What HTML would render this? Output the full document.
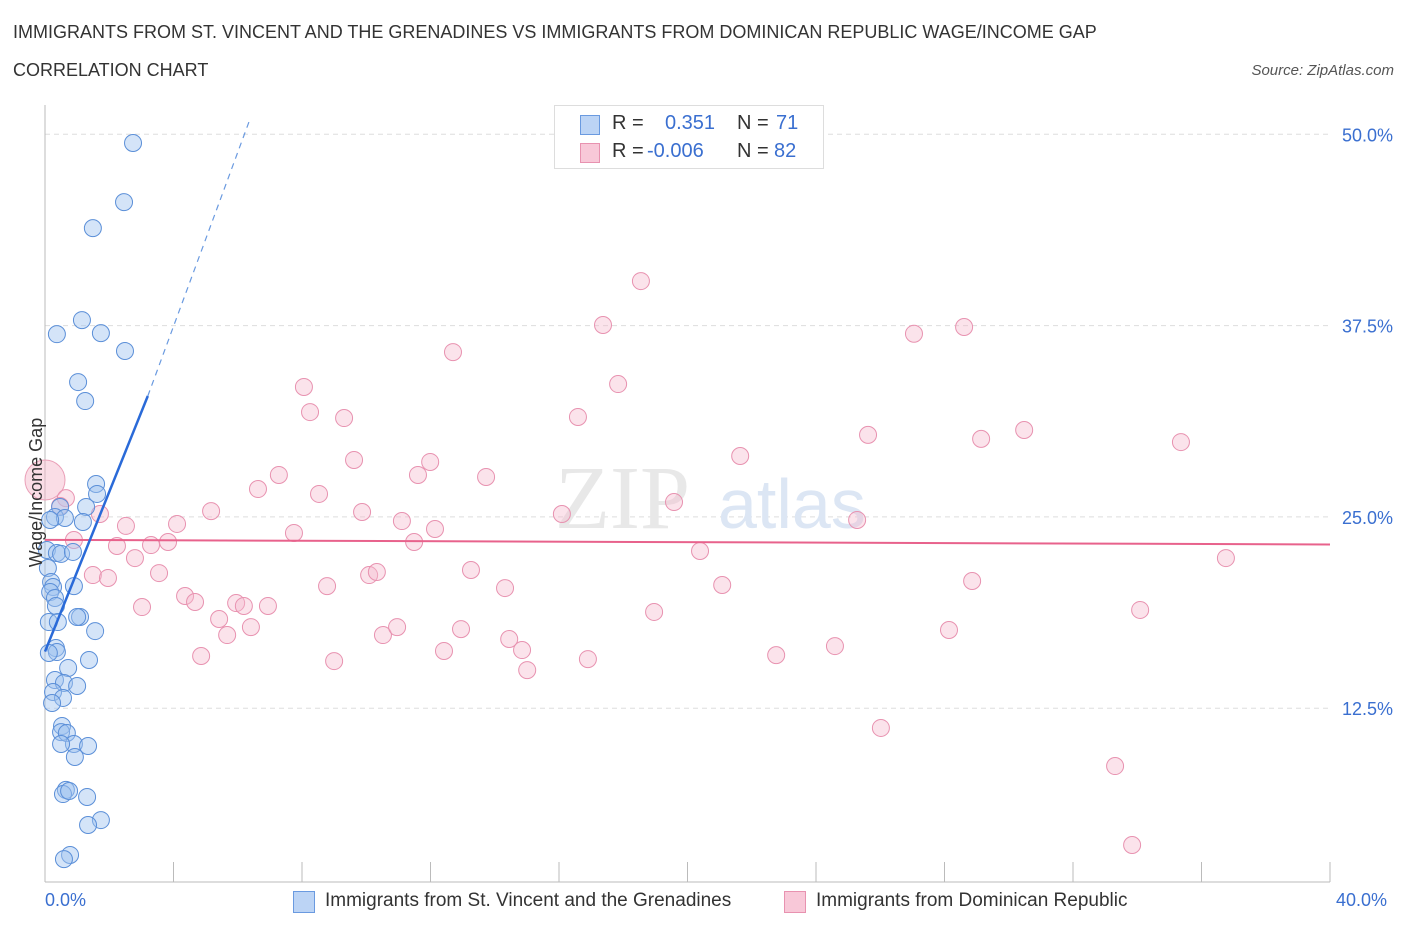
<!DOCTYPE html>
<html><head><meta charset="utf-8"><style>
body{margin:0;background:#fff;font-family:"Liberation Sans",sans-serif;}
#wrap{position:relative;width:1406px;height:930px;overflow:hidden}
.t{position:absolute;white-space:nowrap}
</style></head><body>
<div id="wrap">
<div class="t" style="left:13px;top:22px;font-size:18px;color:#333">IMMIGRANTS FROM ST. VINCENT AND THE GRENADINES VS IMMIGRANTS FROM DOMINICAN REPUBLIC WAGE/INCOME GAP</div>
<div class="t" style="left:13px;top:60px;font-size:18px;color:#333">CORRELATION CHART</div>
<div class="t" style="right:12px;top:62px;font-size:15px;color:#555;font-style:italic">Source: ZipAtlas.com</div>
<svg id="svg" width="1406" height="930" style="position:absolute;left:0;top:0"></svg>
</div>
<script>
const blueX=[2.74,2.46,1.49,1.15,0.37,1.74,2.49,1.03,1.25,1.59,1.62,1.28,0.47,0.31,1.18,0.62,0.16,0.06,0.37,0.50,0.87,0.09,0.19,0.25,0.16,0.31,0.90,0.34,1.09,1.00,1.56,0.12,0.40,0.34,0.37,0.12,1.37,0.72,0.31,0.59,1.00,0.25,0.56,0.22,0.53,0.50,0.68,0.90,0.50,1.34,0.93,0.65,0.56,0.75,1.31,1.74,1.34,0.78,0.59];
const blueY=[49.43,45.57,43.87,37.86,36.94,37.01,35.84,33.81,32.57,27.15,26.50,25.65,25.65,24.99,24.67,24.93,24.80,22.84,22.64,22.58,22.71,21.66,20.75,20.42,20.09,19.70,20.48,19.18,18.46,18.46,17.54,18.13,18.13,16.43,16.17,16.11,15.65,15.13,14.34,14.15,13.95,13.56,13.17,12.84,11.34,10.94,10.88,10.16,10.16,10.03,9.31,7.16,6.89,7.09,6.70,5.19,4.87,2.91,2.64];
const pinkX=[0.65,0.47,1.71,2.52,0.90,2.24,3.30,3.83,4.11,5.17,2.80,3.55,1.49,1.96,3.02,4.36,4.67,5.42,5.67,5.95,6.19,6.94,6.41,4.86,6.63,7.28,8.06,8.25,8.53,9.31,9.62,7.75,8.78,9.87,10.09,10.33,9.00,10.52,10.96,11.11,11.49,11.61,11.99,12.14,12.42,12.70,12.95,13.26,13.73,14.32,14.45,14.85,15.01,16.09,16.59,16.90,17.37,17.84,18.55,18.96,19.58,20.39,21.08,21.64,22.76,24.59,25.28,25.62,26.02,27.05,28.14,28.61,28.86,29.14,30.48,33.31,33.84,34.09,35.36,36.76];
const pinkY=[26.23,25.71,25.19,24.41,23.49,23.10,23.16,23.36,24.54,25.38,22.31,21.33,21.20,21.01,19.11,19.83,19.44,18.33,17.28,19.37,19.18,19.18,17.80,15.91,26.82,27.74,33.49,31.85,26.50,31.46,28.72,23.95,20.48,25.32,21.20,21.40,15.58,17.28,17.80,24.73,23.36,27.74,28.59,24.21,16.24,35.77,17.67,21.53,27.61,20.35,17.02,16.30,14.99,25.19,31.53,15.71,37.54,33.68,40.41,18.79,25.97,22.77,20.55,28.98,15.97,16.56,24.80,30.36,11.21,36.97,17.61,37.41,20.81,30.10,30.68,8.72,3.56,18.92,29.89,22.31];
const yTicks=[12.5,25,37.5,50];
const yTickLabels=["12.5%","25.0%","37.5%","50.0%"];
const blueFit=[[0,16.2],[3.2,32.9]], blueDash=[[3.2,32.9],[6.4,51.1]];
const pinkFit=[[0,23.5],[40,23.2]];
const sx=v=>45+v/40*1285, sy=v=>899.5-v/12.5*191.3;
const svg=document.getElementById('svg');const NS='http://www.w3.org/2000/svg';
function mk(t,a){const e=document.createElementNS(NS,t);for(const k in a)e.setAttribute(k,a[k]);svg.appendChild(e);return e;}
yTicks.forEach((v,i)=>{
 const g=mk('line',{x1:45,x2:1330,y1:sy(v),y2:sy(v),stroke:'#ddd','stroke-dasharray':'5,4'});
 
 
 const t=mk('text',{x:1393,y:sy(v)+7,'text-anchor':'end','font-size':18,fill:'#3a6fd0','font-family':'Liberation Sans'});t.textContent=yTickLabels[i];
 
 
});
const ax=mk('line',{x1:45,x2:45,y1:105,y2:882,stroke:'#bbb'});


const bx=mk('line',{x1:45,x2:1330,y1:882,y2:882,stroke:'#bbb'});


for(let i=0;i<=10;i++){const l=mk('line',{x1:sx(i*4),x2:sx(i*4),y1:862,y2:882,stroke:'#bbb'});
 
 }
const wm=mk('text',{x:555,y:528,'font-size':90,fill:'#e8e8e8','font-family':'Liberation Serif'});wm.textContent='ZIP';


const wm2=mk('text',{x:718,y:528,'font-size':70,fill:'#dce6f4','font-family':'Liberation Sans'});wm2.textContent='atlas';


const big=mk('circle',{cx:sx(0),cy:sy(27.41),r:20,fill:'rgba(245,180,200,0.45)',stroke:'#eaa0b8'});


pinkX.forEach((x,i)=>{const c=mk('circle',{cx:sx(x),cy:sy(pinkY[i]),r:8.5,fill:'rgba(246,184,204,0.4)',stroke:'#e892b0','stroke-width':1});
 
 });
blueX.forEach((x,i)=>{const c=mk('circle',{cx:sx(x),cy:sy(blueY[i]),r:8.5,fill:'rgba(160,195,240,0.45)',stroke:'#5b8fd8','stroke-width':1});
 
 });
const pl=mk('line',{x1:sx(pinkFit[0][0]),y1:sy(pinkFit[0][1]),x2:sx(pinkFit[1][0]),y2:sy(pinkFit[1][1]),stroke:'#e8628c','stroke-width':2});


const bl=mk('line',{x1:sx(blueFit[0][0]),y1:sy(blueFit[0][1]),x2:sx(blueFit[1][0]),y2:sy(blueFit[1][1]),stroke:'#2a6ad8','stroke-width':2.5});


const bd=mk('line',{x1:sx(blueDash[0][0]),y1:sy(blueDash[0][1]),x2:sx(blueDash[1][0]),y2:sy(blueDash[1][1]),stroke:'#6a9ae0','stroke-width':1.2,'stroke-dasharray':'6,5'});


</script>
<div style="position:absolute;left:554px;top:105px;width:268px;height:62px;border:1px solid #ddd;background:#fff;font-size:20px">
 <div style="position:absolute;left:25px;top:9px;width:18px;height:18px;background:#bcd4f5;border:1px solid #6a9ae0"></div>
 <div class="t" style="left:57px;top:6px;color:#333">R = </div><div class="t" style="left:110px;top:6px;color:#3a6fd0">0.351</div>
 <div class="t" style="left:182px;top:6px;color:#333">N = </div><div class="t" style="left:221px;top:6px;color:#3a6fd0">71</div>
 <div style="position:absolute;left:25px;top:37px;width:18px;height:18px;background:#f8c8d8;border:1px solid #e892b0"></div>
 <div class="t" style="left:57px;top:34px;color:#333">R = </div><div class="t" style="left:92px;top:34px;color:#3a6fd0">-0.006</div>
 <div class="t" style="left:182px;top:34px;color:#333">N = </div><div class="t" style="left:219px;top:34px;color:#3a6fd0">82</div>
</div>
<div class="t" style="left:-38px;top:482px;font-size:18px;color:#333;transform:rotate(-90deg)">Wage/Income Gap</div>
<div class="t" style="left:45px;top:890px;font-size:18px;color:#3a6fd0">0.0%</div>
<div class="t" style="left:1336px;top:890px;font-size:18px;color:#3a6fd0">40.0%</div>
<div style="position:absolute;left:293px;top:891px;width:20px;height:20px;background:#bcd4f5;border:1px solid #6a9ae0"></div>
<div class="t" style="left:325px;top:890px;font-size:19px;color:#333">Immigrants from St. Vincent and the Grenadines</div>
<div style="position:absolute;left:784px;top:891px;width:20px;height:20px;background:#f8c8d8;border:1px solid #e892b0"></div>
<div class="t" style="left:816px;top:890px;font-size:19px;color:#333">Immigrants from Dominican Republic</div>
</body></html>
